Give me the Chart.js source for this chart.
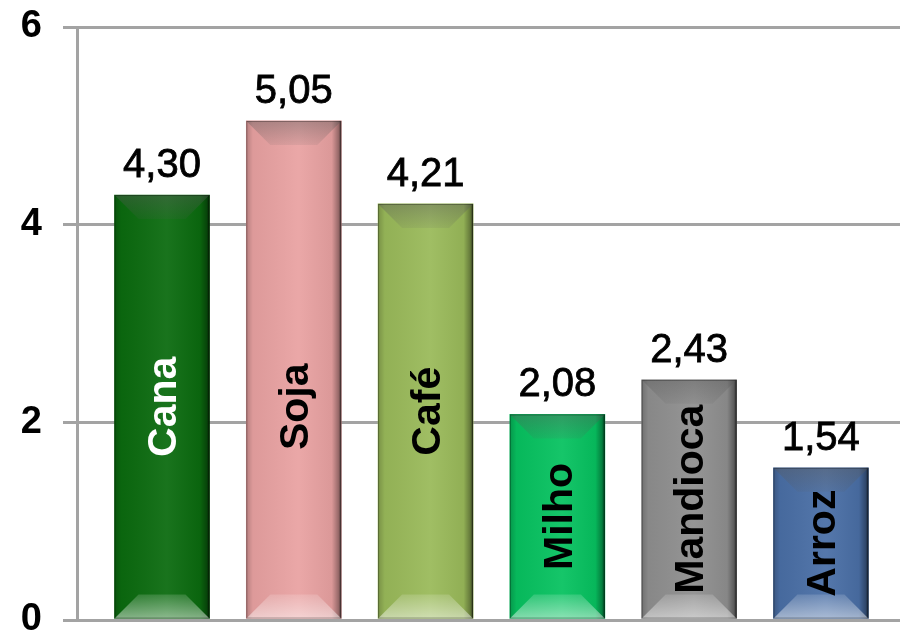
<!DOCTYPE html>
<html>
<head>
<meta charset="utf-8">
<script src="https://cdn.jsdelivr.net/npm/chart.js@4.4.1/dist/chart.umd.min.js"></script>
<style>
  html, body { margin: 0; padding: 0; background: #fff; overflow: hidden; }
  #wrap { width: 900px; height: 632px; position: relative; }
</style>
</head>
<body>
<div id="wrap"><canvas id="chart"></canvas></div>
<script>
'use strict';
/* ── data ─────────────────────────────────────────────── */
const categories  = ['Cana', 'Soja', 'Café', 'Milho', 'Mandioca', 'Arroz'];
const values      = [4.30, 5.05, 4.21, 2.08, 2.43, 1.54];
const yTicks      = [0, 2, 4, 6];
const barColors   = ['#0b6b0f', '#e9a2a2', '#9aba5a', '#07c260', '#8f8f8f', '#4a6fa6'];
const labelColors = ['#ffffff', '#000000', '#000000', '#000000', '#000000', '#000000'];

const FONT = '"Liberation Sans", Arial, sans-serif';
const GRID = '#a3a3a3';
const LABEL_CAP = 4.3;   // category names never sit higher than the middle of this value

const fmt = v => v.toFixed(2).replace('.', ',');

/* ── bevelled bar look, drawn over each bar element ───── */
const bevelPlugin = {
  id: 'bevel',
  afterDatasetsDraw(chart) {
    const ctx = chart.ctx;
    chart.getDatasetMeta(0).data.forEach(el => {
      const { x, y, base, width } = el.getProps(['x', 'y', 'base', 'width'], true);
      const L = x - width / 2, R = x + width / 2, T = y, B = base;
      const b = Math.min(24, (B - T) / 2, width / 2);
      ctx.save();

      // horizontal shading across the face
      const hg = ctx.createLinearGradient(L, 0, R, 0);
      hg.addColorStop(0, 'rgba(0,0,0,0.22)');
      hg.addColorStop(0.07, 'rgba(0,0,0,0.05)');
      hg.addColorStop(0.55, 'rgba(255,255,255,0.06)');
      hg.addColorStop(0.9, 'rgba(0,0,0,0.06)');
      hg.addColorStop(0.97, 'rgba(0,0,0,0.35)');
      hg.addColorStop(1, 'rgba(0,0,0,0.7)');
      ctx.fillStyle = hg;
      ctx.fillRect(L, T, R - L, B - T);

      // top bevel
      const tg = ctx.createLinearGradient(0, T, 0, T + b);
      tg.addColorStop(0, 'rgba(90,90,90,0.4)');
      tg.addColorStop(1, 'rgba(90,90,90,0.1)');
      ctx.fillStyle = tg;
      ctx.beginPath();
      ctx.moveTo(L, T); ctx.lineTo(R, T); ctx.lineTo(R - b, T + b); ctx.lineTo(L + b, T + b);
      ctx.closePath(); ctx.fill();

      // bottom bevel
      const bg = ctx.createLinearGradient(0, B - b, 0, B);
      bg.addColorStop(0, 'rgba(255,255,255,0.15)');
      bg.addColorStop(1, 'rgba(255,255,255,0.5)');
      ctx.fillStyle = bg;
      ctx.beginPath();
      ctx.moveTo(L, B); ctx.lineTo(R, B); ctx.lineTo(R - b, B - b); ctx.lineTo(L + b, B - b);
      ctx.closePath(); ctx.fill();

      // thin rim
      ctx.strokeStyle = 'rgba(0,0,0,0.3)';
      ctx.lineWidth = 1;
      ctx.strokeRect(L + 0.5, T + 0.5, R - L - 1, B - T - 1);
      ctx.restore();
    });
  }
};

/* ── value labels above, category names inside ────────── */
const labelPlugin = {
  id: 'barLabels',
  afterDatasetsDraw(chart) {
    const ctx = chart.ctx, yScale = chart.scales.y;
    chart.getDatasetMeta(0).data.forEach((el, i) => {
      const { x, y, base } = el.getProps(['x', 'y', 'base'], true);
      ctx.save();
      ctx.fillStyle = '#000';
      ctx.strokeStyle = '#000';
      ctx.lineWidth = 0.8;
      ctx.font = `40px ${FONT}`;
      ctx.textAlign = 'center';
      ctx.textBaseline = 'alphabetic';
      ctx.fillText(fmt(values[i]), x, y - 18);
      ctx.strokeText(fmt(values[i]), x, y - 18);

      const top = yScale.getPixelForValue(Math.min(values[i], LABEL_CAP));
      const mid = (top + base) / 2;
      ctx.translate(x + 3, mid);
      ctx.rotate(-Math.PI / 2);
      ctx.fillStyle = labelColors[i];
      ctx.font = `bold 41px ${FONT}`;
      ctx.textBaseline = 'middle';
      ctx.fillText(categories[i], 0, 0);
      ctx.restore();
    });
  }
};

new Chart(document.getElementById('chart'), {
  type: 'bar',
  data: {
    labels: categories,
    datasets: [{
      data: values.map((v, i) => ({ x: i, y: v })),
      backgroundColor: barColors,
      borderWidth: 0,
      barThickness: 95
    }]
  },
  options: {
    responsive: true,
    maintainAspectRatio: false,
    animation: false,
    events: [],
    layout: { padding: { top: 27, right: 0, bottom: 12, left: 0 } },
    plugins: { legend: { display: false }, tooltip: { enabled: false } },
    scales: {
      x: { type: 'linear', display: false, offset: false, min: -0.645, max: 5.6 },
      y: {
        min: 0, max: 6,
        afterBuildTicks: s => { s.ticks = yTicks.map(v => ({ value: v })); },
        afterFit: s => { s.width = 77; s.paddingTop = 0; s.paddingBottom = 0; },
        ticks: { color: '#000', padding: 21, font: { family: FONT, size: 38, weight: 'bold' } },
        grid: { color: GRID, lineWidth: 3, tickLength: 14 },
        border: { color: GRID, width: 3 }
      }
    }
  },
  plugins: [bevelPlugin, labelPlugin]
});
</script>
</body>
</html>
